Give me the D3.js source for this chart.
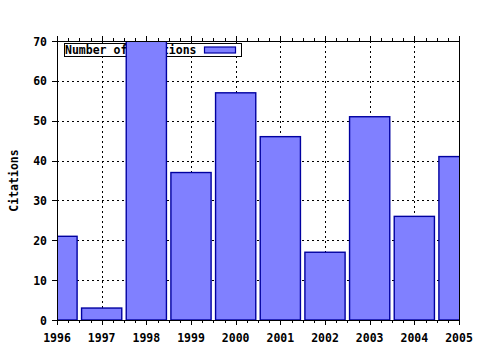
<!DOCTYPE html>
<html>
<head>
<meta charset="utf-8">
<script src="https://cdn.jsdelivr.net/npm/d3@7"></script>
<style>
  html, body { margin: 0; padding: 0; background: #fff; }
  svg text { font-family: "DejaVu Sans Mono", monospace; font-weight: bold; font-size: 11.5px; fill: #000; }
</style>
</head>
<body>
<svg id="chart" width="480" height="350"></svg>
<script>
const years = [1996, 1997, 1998, 1999, 2000, 2001, 2002, 2003, 2004, 2005];
const citations = [21, 3, 70, 37, 57, 46, 17, 51, 26, 41];
const yTicks = [0, 10, 20, 30, 40, 50, 60, 70];
const seriesLabel = "Number of citations";
const yLabel = "Citations";

const width = 480, height = 350;
const margin = { top: 41, right: 21, bottom: 30, left: 57 };
const innerW = width - margin.left - margin.right;
const innerH = height - margin.top - margin.bottom;

const svg = d3.select("#chart");

const x = d3.scaleLinear().domain([1996, 2005]).range([margin.left, margin.left + innerW]);
const y = d3.scaleLinear().domain([0, 70]).range([margin.top + innerH, margin.top]);
const boxWidth = 0.9;

const plotBottom = margin.top + innerH, plotTop = margin.top;
const plotLeft = margin.left, plotRight = margin.left + innerW;

svg.append("defs").append("clipPath").attr("id", "plot-clip")
  .append("rect")
  .attr("x", plotLeft).attr("y", plotTop)
  .attr("width", innerW).attr("height", innerH);

// grid
const grid = svg.append("g").attr("stroke", "#000").attr("stroke-width", 1)
  .attr("stroke-dasharray", "2,3").attr("shape-rendering", "crispEdges");
grid.selectAll(".gx").data(years.slice(1, -1)).enter().append("line")
  .attr("x1", (d) => Math.round(x(d)) + 0.5).attr("x2", (d) => Math.round(x(d)) + 0.5)
  .attr("y1", plotTop).attr("y2", plotBottom);
grid.selectAll(".gy").data(yTicks.slice(1, -1)).enter().append("line")
  .attr("y1", (d) => Math.round(y(d)) + 0.5).attr("y2", (d) => Math.round(y(d)) + 0.5)
  .attr("x1", plotLeft).attr("x2", plotRight);

// legend
const legend = svg.append("g");
legend.append("rect")
  .attr("x", 64.5).attr("y", 43.5).attr("width", 177).attr("height", 13)
  .attr("fill", "#fff").attr("stroke", "#000").attr("stroke-width", 1);
legend.append("text").attr("x", 65).attr("y", 54).text(seriesLabel);
legend.append("rect")
  .attr("x", 204.5).attr("y", 47).attr("width", 31).attr("height", 6)
  .attr("fill", "#8080ff").attr("stroke", "#0000a0").attr("stroke-width", 1.2);

// bars
svg.append("g").attr("clip-path", "url(#plot-clip)")
  .selectAll("rect").data(years).enter().append("rect")
  .attr("x", (d) => x(d - boxWidth / 2))
  .attr("width", (d) => x(d + boxWidth / 2) - x(d - boxWidth / 2))
  .attr("y", (d, i) => y(citations[i]))
  .attr("height", (d, i) => y(0) - y(citations[i]))
  .attr("fill", "#8080ff").attr("stroke", "#0000a0").attr("stroke-width", 1.4);

// ticks: x outward top and bottom with minor ticks, y outward on the left
const minorYears = d3.range(1996, 2005.001, 0.25).filter((v) => v % 1 !== 0);
const ticks = svg.append("g").attr("stroke", "#000").attr("stroke-width", 1).attr("shape-rendering", "crispEdges");
years.forEach((v) => {
  const px = Math.round(x(v)) + 0.5;
  ticks.append("line").attr("x1", px).attr("x2", px).attr("y1", plotBottom).attr("y2", plotBottom + 5);
  ticks.append("line").attr("x1", px).attr("x2", px).attr("y1", plotTop).attr("y2", plotTop - 5);
});
minorYears.forEach((v) => {
  const px = Math.round(x(v)) + 0.5;
  ticks.append("line").attr("x1", px).attr("x2", px).attr("y1", plotBottom).attr("y2", plotBottom + 3);
  ticks.append("line").attr("x1", px).attr("x2", px).attr("y1", plotTop).attr("y2", plotTop - 3);
});
yTicks.forEach((v) => {
  const py = Math.round(y(v)) + 0.5;
  ticks.append("line").attr("x1", plotLeft).attr("x2", plotLeft - 5).attr("y1", py).attr("y2", py);
});

// border
svg.append("rect")
  .attr("x", plotLeft + 0.5).attr("y", plotTop + 0.5)
  .attr("width", innerW).attr("height", innerH)
  .attr("fill", "none").attr("stroke", "#000").attr("stroke-width", 1)
  .attr("shape-rendering", "crispEdges");

// labels
svg.append("g").selectAll("text").data(years).enter().append("text")
  .attr("x", (d) => x(d)).attr("y", 342)
  .attr("text-anchor", "middle").text((d) => d);
svg.append("g").selectAll("text").data(yTicks).enter().append("text")
  .attr("x", 47).attr("y", (d) => y(d) + 4.5)
  .attr("text-anchor", "end").text((d) => d);
svg.append("text")
  .attr("transform", `translate(18,${(plotTop + plotBottom) / 2}) rotate(-90)`)
  .attr("text-anchor", "middle").text(yLabel);
</script>
</body>
</html>
